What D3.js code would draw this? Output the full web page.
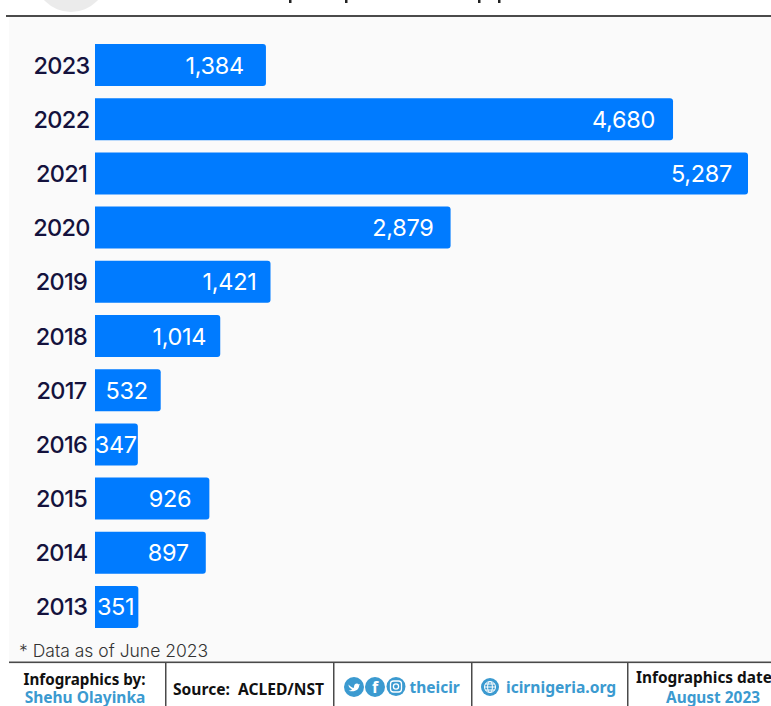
<!DOCTYPE html>
<html>
<head>
<meta charset="utf-8">
<script src="https://cdn.jsdelivr.net/npm/d3@7"></script>
<style>
  html, body { margin: 0; padding: 0; background: #fff; overflow: hidden; }
  svg { display: block; }
  text { white-space: pre; }
</style>
</head>
<body>
<svg id="chart" width="771" height="706"></svg>
<script>
// Yearly totals, newest first
const years = ["2023","2022","2021","2020","2019","2018","2017","2016","2015","2014","2013"];
const totals = [1384,4680,5287,2879,1421,1014,532,347,926,897,351];
// Gap between a value label and its bar end
const labelInsets = [22,18,16,17,14,14,13,1,18,17,4];

const blue = "#007bff";
const ink = "#14123d";
const footerBlue = "#3b9ad0";
const rule = "#4a4a4a";
const numberFont = "Inter, sans-serif";
const footerFont = "'Noto Sans', sans-serif";

const svg = d3.select("#chart");

// Header remnant and panel
svg.append("rect").attr("x",9).attr("y",16).attr("width",762).attr("height",646).attr("fill","#fafafa");
svg.append("circle").attr("cx",71).attr("cy",-24.4).attr("r",36.4).attr("fill","#ebebeb");
svg.selectAll("rect.descender").data([289,345,478,498]).join("rect")
  .attr("class","descender").attr("x",d=>d).attr("y",0).attr("width",2.5).attr("height",3).attr("fill","#222");
svg.append("rect").attr("x",6).attr("y",15).attr("width",765).attr("height",2).attr("fill",rule);

// Scales
const x = d3.scaleLinear().domain([0,5287]).range([95,748]);
const y = d3.scaleBand().domain(years).range([44,628]).paddingInner(0.225);

const barPath = (v, yr) => {
  const p = d3.path(), x0 = x(0), x1 = x(v), y0 = y(yr), y1 = y0 + y.bandwidth(), r = 3;
  p.moveTo(x0,y0); p.lineTo(x1-r,y0); p.quadraticCurveTo(x1,y0,x1,y0+r);
  p.lineTo(x1,y1-r); p.quadraticCurveTo(x1,y1,x1-r,y1); p.lineTo(x0,y1); p.closePath();
  return p.toString();
};

svg.append("g").selectAll("path").data(years).join("path")
  .attr("d",(d,i)=>barPath(totals[i],d)).attr("fill",blue);

svg.append("g").selectAll("text").data(years).join("text")
  .attr("x",61.5).attr("y",d=>y(d)+y.bandwidth()/2+8.5)
  .attr("text-anchor","middle").attr("font-family",numberFont).attr("font-size",23.5)
  .attr("letter-spacing",-0.7).attr("font-weight",500).attr("fill",ink).text(d=>d);

svg.append("g").selectAll("text").data(years).join("text")
  .attr("x",(d,i)=>x(totals[i])-labelInsets[i]).attr("y",d=>y(d)+y.bandwidth()/2+8.5)
  .attr("text-anchor","end").attr("font-family",numberFont).attr("font-size",23.5)
  .attr("letter-spacing",-0.3).attr("fill","#fff").text((d,i)=>d3.format(",")(totals[i]));

// Footnote
svg.append("text").attr("x",19).attr("y",657).attr("font-family",numberFont).attr("font-weight",300)
  .attr("font-size",17.5).attr("fill","#333").text("* Data as of June 2023");

// Footer strip
svg.append("rect").attr("x",9).attr("y",662).attr("width",762).attr("height",44).attr("fill","#fff");
svg.append("rect").attr("x",9).attr("y",661.5).attr("width",762).attr("height",1.6).attr("fill",rule);
svg.selectAll("rect.divider").data([165,333,471,627]).join("rect")
  .attr("class","divider").attr("x",d=>d).attr("y",662).attr("width",1.5).attr("height",44).attr("fill",rule);

const footerText = (tx, ty, str, fill, anchor="middle", size=15.2) =>
  svg.append("text").attr("x",tx).attr("y",ty).attr("text-anchor",anchor)
    .attr("font-family",footerFont).attr("font-weight",700).attr("font-size",size)
    .attr("fill",fill).text(str);

footerText(84.5,685,"Infographics by:","#111");
footerText(85,703,"Shehu Olayinka",footerBlue,"middle",15.5);
footerText(173,695,"Source:  ACLED/NST","#111","start",15.6);
footerText(409.5,693,"theicir",footerBlue,"start",15.5);
footerText(506,693,"icirnigeria.org",footerBlue,"start",15.6);
footerText(636,683,"Infographics date:","#111","start",15.4);
footerText(713,703,"August 2023",footerBlue,"middle",15.4);

// Social icons
const icon = (cx, cy, r) => svg.append("circle").attr("cx",cx).attr("cy",cy).attr("r",r).attr("fill",footerBlue);
icon(354,687,10);
svg.append("path").attr("transform","translate(354,687)")
  .attr("d","M-5.5,-2.5 C-3.5,0 -1.5,0.8 0,0.8 C-0.5,-3 3,-4.5 4.8,-2.6 L6,-3 L5.2,-1.4 C5,3 1,5.5 -5.5,3.8 C-3.5,3.6 -2.5,3 -2,2.3 C-4,1.5 -5.5,0 -5.5,-2.5 Z")
  .attr("fill","#fff");
icon(375,687,10);
svg.append("text").attr("x",375).attr("y",693).attr("text-anchor","middle").attr("font-family",footerFont)
  .attr("font-weight",700).attr("font-size",16).attr("fill","#fff").text("f");
icon(396,686.5,9.5);
svg.append("rect").attr("x",390.5).attr("y",681).attr("width",11).attr("height",11).attr("rx",3)
  .attr("fill","none").attr("stroke","#fff").attr("stroke-width",1.3);
svg.append("circle").attr("cx",396).attr("cy",686.5).attr("r",2.6).attr("fill","none").attr("stroke","#fff").attr("stroke-width",1.3);
icon(490,687,9);
const globe = svg.append("g").attr("fill","none").attr("stroke","#fff").attr("stroke-width",1);
globe.append("circle").attr("cx",490).attr("cy",687).attr("r",5.5);
globe.append("ellipse").attr("cx",490).attr("cy",687).attr("rx",2.4).attr("ry",5.5);
globe.append("path").attr("d","M484.5,687H495.5M485.2,684H494.8M485.2,690H494.8");
</script>
</body>
</html>
